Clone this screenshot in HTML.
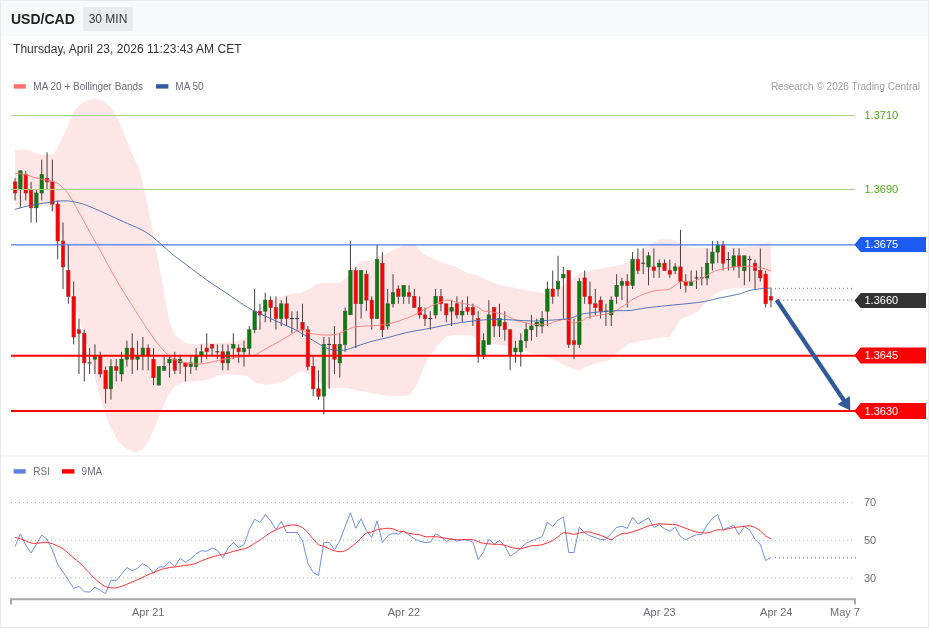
<!DOCTYPE html>
<html><head><meta charset="utf-8"><title>USD/CAD</title>
<style>
html,body{margin:0;padding:0;background:#fff;}
body{width:929px;height:629px;overflow:hidden;position:relative;font-family:"Liberation Sans",Arial,sans-serif;}
#box{position:absolute;left:0;top:0;width:927px;height:626px;border:1px solid #e6e9ed;background:#fff;}
#hdr{position:absolute;left:1px;top:1px;width:927px;height:35px;background:#f8f9fa;}
#ttl{position:absolute;left:11px;top:11px;font-size:14px;font-weight:bold;color:#222;line-height:16px;white-space:nowrap;}
#badge{position:absolute;left:83px;top:7px;width:50px;height:24px;background:#e9ecef;color:#333;font-size:12px;line-height:24px;text-align:center;white-space:nowrap;}
#date{position:absolute;left:13px;top:42px;font-size:12px;letter-spacing:0.06px;color:#333;line-height:15px;white-space:nowrap;}
</style></head><body>
<div id="box"></div>
<div id="hdr"></div>
<div id="ttl">USD/CAD</div>
<div id="badge">30 MIN</div>
<div id="date">Thursday, April 23, 2026 11:23:43 AM CET</div>
<svg width="929" height="629" viewBox="0 0 929 629" style="position:absolute;left:0;top:0" font-family="Liberation Sans, Arial, sans-serif">
<polygon points="15.0,150.0 25.0,149.3 31.0,151.0 37.7,153.8 45.0,154.5 51.9,154.2 55.0,152.0 57.1,148.0 60.0,142.5 63.6,135.0 67.5,126.0 71.3,117.0 75.2,109.2 80.0,104.5 85.5,101.5 90.0,99.8 94.6,98.9 99.0,99.5 103.6,101.5 107.5,104.5 111.4,107.9 117.8,118.3 124.3,133.8 128.0,144.1 131.7,152.5 138.3,166.7 143.3,185.0 148.3,208.3 153.3,235.0 158.3,261.7 163.3,288.3 166.0,304.7 170.0,323.3 175.0,335.0 181.7,340.7 190.0,344.3 206.7,343.5 226.7,342.5 240.0,340.5 246.0,337.0 252.0,331.0 258.0,326.0 266.7,310.0 275.2,299.7 281.7,296.5 290.7,294.0 300.0,293.0 310.0,288.3 318.3,283.3 340.0,282.5 346.7,277.0 355.0,266.7 361.7,261.0 375.0,260.0 383.3,255.5 396.7,248.3 404.0,245.2 410.0,244.0 416.0,245.5 423.3,254.0 431.7,258.3 443.3,263.0 456.7,266.7 466.7,273.0 476.7,275.0 486.7,280.0 500.0,285.0 516.7,288.3 533.3,291.7 546.7,293.3 556.7,290.0 565.0,284.0 572.6,278.8 580.4,272.5 590.0,270.3 606.7,267.7 623.3,264.3 631.7,260.0 640.0,251.5 646.5,247.0 654.2,241.8 662.0,239.2 670.0,239.0 676.2,241.0 682.6,245.0 691.7,247.6 706.7,247.7 723.3,247.8 740.0,247.6 756.7,245.8 771.0,241.5 771.0,288.8 765.0,288.5 756.0,288.3 748.0,288.0 740.4,288.0 733.6,288.2 728.8,288.9 722.0,290.8 715.2,294.2 709.4,299.0 704.5,303.9 697.8,311.7 690.0,315.5 686.7,316.7 680.0,320.0 675.0,328.3 670.0,336.7 656.7,338.3 643.3,340.5 630.0,343.5 621.7,349.0 615.0,355.5 610.0,360.0 600.0,362.5 588.0,366.0 578.4,370.8 570.0,367.5 562.3,364.0 549.5,358.0 540.0,356.0 525.0,351.0 508.5,346.7 491.7,343.5 477.5,340.2 472.3,335.7 456.7,335.0 446.5,336.5 436.7,346.7 428.3,358.3 423.3,368.3 416.7,385.0 410.0,395.0 400.0,396.3 390.0,396.0 373.4,393.5 360.4,391.0 347.5,388.0 329.4,388.0 318.0,382.0 308.8,375.2 302.3,370.7 296.7,373.5 283.3,381.7 266.7,385.0 256.7,383.3 246.7,376.0 233.3,374.5 218.3,375.0 210.0,379.3 200.0,380.7 183.3,382.3 175.0,386.0 168.3,395.0 161.7,410.0 155.0,426.7 148.3,441.7 141.7,450.0 135.0,452.3 126.7,449.3 118.3,441.7 114.6,434.6 109.0,424.0 103.5,408.5 98.5,391.0 93.5,371.5 87.5,347.0 82.0,328.0 78.0,316.0 73.5,300.0 69.5,280.0 66.5,262.0 63.0,244.0 59.0,226.0 55.0,214.0 50.6,207.0 45.0,206.0 35.0,206.0 25.0,205.0 15.0,204.0" fill="#ffe6e6"/>
<line x1="15.10" y1="178.2" x2="15.10" y2="200.4" stroke="#4a3f3f" stroke-width="1"/>
<rect x="13.40" y="181.9" width="3.4" height="11.1" fill="#ff0000" stroke="#a83232" stroke-width="0.6"/>
<line x1="20.42" y1="170.8" x2="20.42" y2="207.8" stroke="#4a3f3f" stroke-width="1"/>
<rect x="18.72" y="170.8" width="3.4" height="18.5" fill="#0a7d0a" stroke="#2f5a2f" stroke-width="0.6"/>
<line x1="25.75" y1="170.8" x2="25.75" y2="200.4" stroke="#4a3f3f" stroke-width="1"/>
<rect x="24.05" y="174.5" width="3.4" height="18.5" fill="#ff0000" stroke="#a83232" stroke-width="0.6"/>
<line x1="31.07" y1="181.9" x2="31.07" y2="222.5" stroke="#4a3f3f" stroke-width="1"/>
<rect x="29.37" y="189.3" width="3.4" height="18.5" fill="#ff0000" stroke="#a83232" stroke-width="0.6"/>
<line x1="36.39" y1="189.3" x2="36.39" y2="222.5" stroke="#4a3f3f" stroke-width="1"/>
<rect x="34.69" y="193.0" width="3.4" height="14.8" fill="#0a7d0a" stroke="#2f5a2f" stroke-width="0.6"/>
<line x1="41.72" y1="159.7" x2="41.72" y2="200.4" stroke="#4a3f3f" stroke-width="1"/>
<rect x="40.02" y="174.5" width="3.4" height="18.5" fill="#0a7d0a" stroke="#2f5a2f" stroke-width="0.6"/>
<line x1="47.04" y1="152.3" x2="47.04" y2="189.3" stroke="#4a3f3f" stroke-width="1"/>
<rect x="45.34" y="178.2" width="3.4" height="3.7" fill="#ff0000" stroke="#a83232" stroke-width="0.6"/>
<line x1="52.36" y1="159.7" x2="52.36" y2="211.4" stroke="#4a3f3f" stroke-width="1"/>
<rect x="50.66" y="181.9" width="3.4" height="22.2" fill="#ff0000" stroke="#a83232" stroke-width="0.6"/>
<line x1="57.68" y1="200.4" x2="57.68" y2="259.5" stroke="#4a3f3f" stroke-width="1"/>
<rect x="55.98" y="204.1" width="3.4" height="36.9" fill="#ff0000" stroke="#a83232" stroke-width="0.6"/>
<line x1="63.01" y1="222.5" x2="63.01" y2="289.0" stroke="#4a3f3f" stroke-width="1"/>
<rect x="61.31" y="241.0" width="3.4" height="25.9" fill="#ff0000" stroke="#a83232" stroke-width="0.6"/>
<line x1="68.33" y1="244.7" x2="68.33" y2="303.8" stroke="#4a3f3f" stroke-width="1"/>
<rect x="66.63" y="270.5" width="3.4" height="25.9" fill="#ff0000" stroke="#a83232" stroke-width="0.6"/>
<line x1="73.65" y1="281.6" x2="73.65" y2="344.4" stroke="#4a3f3f" stroke-width="1"/>
<rect x="71.95" y="296.4" width="3.4" height="40.6" fill="#ff0000" stroke="#a83232" stroke-width="0.6"/>
<line x1="78.98" y1="318.6" x2="78.98" y2="374.0" stroke="#4a3f3f" stroke-width="1"/>
<rect x="77.28" y="329.7" width="3.4" height="3.7" fill="#ff0000" stroke="#a83232" stroke-width="0.6"/>
<line x1="84.30" y1="329.7" x2="84.30" y2="381.4" stroke="#4a3f3f" stroke-width="1"/>
<rect x="82.60" y="333.3" width="3.4" height="29.6" fill="#ff0000" stroke="#a83232" stroke-width="0.6"/>
<line x1="89.62" y1="348.1" x2="89.62" y2="374.0" stroke="#4a3f3f" stroke-width="1"/>
<line x1="87.62" y1="362.9" x2="91.62" y2="362.9" stroke="#3a3030" stroke-width="1"/>
<line x1="94.94" y1="344.4" x2="94.94" y2="374.0" stroke="#4a3f3f" stroke-width="1"/>
<rect x="93.24" y="355.5" width="3.4" height="3.7" fill="#0a7d0a" stroke="#2f5a2f" stroke-width="0.6"/>
<line x1="100.27" y1="351.8" x2="100.27" y2="377.7" stroke="#4a3f3f" stroke-width="1"/>
<rect x="98.57" y="355.5" width="3.4" height="18.5" fill="#ff0000" stroke="#a83232" stroke-width="0.6"/>
<line x1="105.59" y1="366.6" x2="105.59" y2="403.5" stroke="#4a3f3f" stroke-width="1"/>
<rect x="103.89" y="370.3" width="3.4" height="18.5" fill="#ff0000" stroke="#a83232" stroke-width="0.6"/>
<line x1="110.91" y1="359.2" x2="110.91" y2="399.8" stroke="#4a3f3f" stroke-width="1"/>
<rect x="109.21" y="366.6" width="3.4" height="22.2" fill="#0a7d0a" stroke="#2f5a2f" stroke-width="0.6"/>
<line x1="116.24" y1="359.2" x2="116.24" y2="381.4" stroke="#4a3f3f" stroke-width="1"/>
<rect x="114.54" y="366.6" width="3.4" height="3.7" fill="#ff0000" stroke="#a83232" stroke-width="0.6"/>
<line x1="121.56" y1="351.8" x2="121.56" y2="381.4" stroke="#4a3f3f" stroke-width="1"/>
<rect x="119.86" y="359.2" width="3.4" height="14.8" fill="#0a7d0a" stroke="#2f5a2f" stroke-width="0.6"/>
<line x1="126.88" y1="340.7" x2="126.88" y2="366.6" stroke="#4a3f3f" stroke-width="1"/>
<rect x="125.18" y="348.1" width="3.4" height="11.1" fill="#0a7d0a" stroke="#2f5a2f" stroke-width="0.6"/>
<line x1="132.21" y1="333.3" x2="132.21" y2="374.0" stroke="#4a3f3f" stroke-width="1"/>
<rect x="130.51" y="348.1" width="3.4" height="11.1" fill="#ff0000" stroke="#a83232" stroke-width="0.6"/>
<line x1="137.53" y1="340.7" x2="137.53" y2="370.3" stroke="#4a3f3f" stroke-width="1"/>
<rect x="135.83" y="355.5" width="3.4" height="3.7" fill="#0a7d0a" stroke="#2f5a2f" stroke-width="0.6"/>
<line x1="142.85" y1="337.0" x2="142.85" y2="370.3" stroke="#4a3f3f" stroke-width="1"/>
<rect x="141.15" y="348.1" width="3.4" height="7.4" fill="#0a7d0a" stroke="#2f5a2f" stroke-width="0.6"/>
<line x1="148.18" y1="344.4" x2="148.18" y2="370.3" stroke="#4a3f3f" stroke-width="1"/>
<rect x="146.48" y="348.1" width="3.4" height="7.4" fill="#ff0000" stroke="#a83232" stroke-width="0.6"/>
<line x1="153.50" y1="348.1" x2="153.50" y2="385.1" stroke="#4a3f3f" stroke-width="1"/>
<rect x="151.80" y="359.2" width="3.4" height="18.5" fill="#ff0000" stroke="#a83232" stroke-width="0.6"/>
<line x1="158.82" y1="366.6" x2="158.82" y2="385.1" stroke="#4a3f3f" stroke-width="1"/>
<rect x="157.12" y="366.6" width="3.4" height="18.5" fill="#0a7d0a" stroke="#2f5a2f" stroke-width="0.6"/>
<line x1="164.14" y1="355.5" x2="164.14" y2="370.3" stroke="#4a3f3f" stroke-width="1"/>
<rect x="162.44" y="366.6" width="3.4" height="3.7" fill="#0a7d0a" stroke="#2f5a2f" stroke-width="0.6"/>
<line x1="169.47" y1="355.5" x2="169.47" y2="377.7" stroke="#4a3f3f" stroke-width="1"/>
<rect x="167.77" y="359.2" width="3.4" height="3.7" fill="#0a7d0a" stroke="#2f5a2f" stroke-width="0.6"/>
<line x1="174.79" y1="351.8" x2="174.79" y2="374.0" stroke="#4a3f3f" stroke-width="1"/>
<rect x="173.09" y="359.2" width="3.4" height="11.1" fill="#ff0000" stroke="#a83232" stroke-width="0.6"/>
<line x1="180.11" y1="355.5" x2="180.11" y2="374.0" stroke="#4a3f3f" stroke-width="1"/>
<rect x="178.41" y="359.2" width="3.4" height="3.7" fill="#0a7d0a" stroke="#2f5a2f" stroke-width="0.6"/>
<line x1="185.44" y1="362.9" x2="185.44" y2="381.4" stroke="#4a3f3f" stroke-width="1"/>
<rect x="183.74" y="362.9" width="3.4" height="3.7" fill="#ff0000" stroke="#a83232" stroke-width="0.6"/>
<line x1="190.76" y1="355.5" x2="190.76" y2="374.0" stroke="#4a3f3f" stroke-width="1"/>
<rect x="189.06" y="362.9" width="3.4" height="3.7" fill="#0a7d0a" stroke="#2f5a2f" stroke-width="0.6"/>
<line x1="196.08" y1="348.1" x2="196.08" y2="370.3" stroke="#4a3f3f" stroke-width="1"/>
<rect x="194.38" y="355.5" width="3.4" height="11.1" fill="#0a7d0a" stroke="#2f5a2f" stroke-width="0.6"/>
<line x1="201.41" y1="344.4" x2="201.41" y2="362.9" stroke="#4a3f3f" stroke-width="1"/>
<rect x="199.71" y="351.8" width="3.4" height="3.7" fill="#0a7d0a" stroke="#2f5a2f" stroke-width="0.6"/>
<line x1="206.73" y1="333.3" x2="206.73" y2="359.2" stroke="#4a3f3f" stroke-width="1"/>
<rect x="205.03" y="348.1" width="3.4" height="3.7" fill="#ff0000" stroke="#a83232" stroke-width="0.6"/>
<line x1="212.05" y1="344.4" x2="212.05" y2="355.5" stroke="#4a3f3f" stroke-width="1"/>
<rect x="210.35" y="344.4" width="3.4" height="3.7" fill="#ff0000" stroke="#a83232" stroke-width="0.6"/>
<line x1="217.37" y1="344.4" x2="217.37" y2="359.2" stroke="#4a3f3f" stroke-width="1"/>
<line x1="215.37" y1="351.8" x2="219.37" y2="351.8" stroke="#3a3030" stroke-width="1"/>
<line x1="222.70" y1="344.4" x2="222.70" y2="370.3" stroke="#4a3f3f" stroke-width="1"/>
<rect x="221.00" y="351.8" width="3.4" height="11.1" fill="#ff0000" stroke="#a83232" stroke-width="0.6"/>
<line x1="228.02" y1="344.4" x2="228.02" y2="370.3" stroke="#4a3f3f" stroke-width="1"/>
<rect x="226.32" y="351.8" width="3.4" height="11.1" fill="#0a7d0a" stroke="#2f5a2f" stroke-width="0.6"/>
<line x1="233.34" y1="333.3" x2="233.34" y2="359.2" stroke="#4a3f3f" stroke-width="1"/>
<rect x="231.64" y="344.4" width="3.4" height="3.7" fill="#0a7d0a" stroke="#2f5a2f" stroke-width="0.6"/>
<line x1="238.67" y1="344.4" x2="238.67" y2="362.9" stroke="#4a3f3f" stroke-width="1"/>
<rect x="236.97" y="348.1" width="3.4" height="3.7" fill="#ff0000" stroke="#a83232" stroke-width="0.6"/>
<line x1="243.99" y1="340.7" x2="243.99" y2="366.6" stroke="#4a3f3f" stroke-width="1"/>
<rect x="242.29" y="348.1" width="3.4" height="3.7" fill="#0a7d0a" stroke="#2f5a2f" stroke-width="0.6"/>
<line x1="249.31" y1="326.0" x2="249.31" y2="355.5" stroke="#4a3f3f" stroke-width="1"/>
<rect x="247.61" y="329.7" width="3.4" height="18.5" fill="#0a7d0a" stroke="#2f5a2f" stroke-width="0.6"/>
<line x1="254.64" y1="289.0" x2="254.64" y2="333.3" stroke="#4a3f3f" stroke-width="1"/>
<rect x="252.94" y="311.2" width="3.4" height="18.5" fill="#0a7d0a" stroke="#2f5a2f" stroke-width="0.6"/>
<line x1="259.96" y1="303.8" x2="259.96" y2="329.7" stroke="#4a3f3f" stroke-width="1"/>
<rect x="258.26" y="311.2" width="3.4" height="3.7" fill="#ff0000" stroke="#a83232" stroke-width="0.6"/>
<line x1="265.28" y1="292.7" x2="265.28" y2="322.3" stroke="#4a3f3f" stroke-width="1"/>
<rect x="263.58" y="300.1" width="3.4" height="11.1" fill="#0a7d0a" stroke="#2f5a2f" stroke-width="0.6"/>
<line x1="270.60" y1="296.4" x2="270.60" y2="322.3" stroke="#4a3f3f" stroke-width="1"/>
<rect x="268.90" y="300.1" width="3.4" height="7.4" fill="#ff0000" stroke="#a83232" stroke-width="0.6"/>
<line x1="275.93" y1="296.4" x2="275.93" y2="329.7" stroke="#4a3f3f" stroke-width="1"/>
<rect x="274.23" y="307.5" width="3.4" height="11.1" fill="#ff0000" stroke="#a83232" stroke-width="0.6"/>
<line x1="281.25" y1="300.1" x2="281.25" y2="326.0" stroke="#4a3f3f" stroke-width="1"/>
<rect x="279.55" y="303.8" width="3.4" height="14.8" fill="#0a7d0a" stroke="#2f5a2f" stroke-width="0.6"/>
<line x1="286.57" y1="296.4" x2="286.57" y2="326.0" stroke="#4a3f3f" stroke-width="1"/>
<rect x="284.87" y="303.8" width="3.4" height="14.8" fill="#ff0000" stroke="#a83232" stroke-width="0.6"/>
<line x1="291.90" y1="311.2" x2="291.90" y2="333.3" stroke="#4a3f3f" stroke-width="1"/>
<line x1="289.90" y1="318.6" x2="293.90" y2="318.6" stroke="#3a3030" stroke-width="1"/>
<line x1="297.22" y1="311.2" x2="297.22" y2="329.7" stroke="#4a3f3f" stroke-width="1"/>
<line x1="295.22" y1="318.6" x2="299.22" y2="318.6" stroke="#3a3030" stroke-width="1"/>
<line x1="302.54" y1="303.8" x2="302.54" y2="337.0" stroke="#4a3f3f" stroke-width="1"/>
<rect x="300.84" y="322.3" width="3.4" height="7.4" fill="#ff0000" stroke="#a83232" stroke-width="0.6"/>
<line x1="307.87" y1="326.0" x2="307.87" y2="370.3" stroke="#4a3f3f" stroke-width="1"/>
<rect x="306.17" y="329.7" width="3.4" height="36.9" fill="#ff0000" stroke="#a83232" stroke-width="0.6"/>
<line x1="313.19" y1="355.5" x2="313.19" y2="396.1" stroke="#4a3f3f" stroke-width="1"/>
<rect x="311.49" y="366.6" width="3.4" height="22.2" fill="#ff0000" stroke="#a83232" stroke-width="0.6"/>
<line x1="318.51" y1="370.3" x2="318.51" y2="399.8" stroke="#4a3f3f" stroke-width="1"/>
<rect x="316.81" y="388.8" width="3.4" height="7.4" fill="#ff0000" stroke="#a83232" stroke-width="0.6"/>
<line x1="323.83" y1="337.0" x2="323.83" y2="414.6" stroke="#4a3f3f" stroke-width="1"/>
<rect x="322.13" y="344.4" width="3.4" height="51.7" fill="#0a7d0a" stroke="#2f5a2f" stroke-width="0.6"/>
<line x1="329.16" y1="337.0" x2="329.16" y2="388.8" stroke="#4a3f3f" stroke-width="1"/>
<line x1="327.16" y1="344.4" x2="331.16" y2="344.4" stroke="#3a3030" stroke-width="1"/>
<line x1="334.48" y1="326.0" x2="334.48" y2="374.0" stroke="#4a3f3f" stroke-width="1"/>
<rect x="332.78" y="344.4" width="3.4" height="14.8" fill="#ff0000" stroke="#a83232" stroke-width="0.6"/>
<line x1="339.80" y1="333.3" x2="339.80" y2="377.7" stroke="#4a3f3f" stroke-width="1"/>
<rect x="338.10" y="344.4" width="3.4" height="18.5" fill="#0a7d0a" stroke="#2f5a2f" stroke-width="0.6"/>
<line x1="345.13" y1="307.5" x2="345.13" y2="351.8" stroke="#4a3f3f" stroke-width="1"/>
<rect x="343.43" y="311.2" width="3.4" height="33.2" fill="#0a7d0a" stroke="#2f5a2f" stroke-width="0.6"/>
<line x1="350.45" y1="241.0" x2="350.45" y2="314.9" stroke="#4a3f3f" stroke-width="1"/>
<rect x="348.75" y="270.5" width="3.4" height="44.3" fill="#0a7d0a" stroke="#2f5a2f" stroke-width="0.6"/>
<line x1="355.77" y1="266.9" x2="355.77" y2="348.1" stroke="#4a3f3f" stroke-width="1"/>
<rect x="354.07" y="270.5" width="3.4" height="33.2" fill="#ff0000" stroke="#a83232" stroke-width="0.6"/>
<line x1="361.10" y1="270.5" x2="361.10" y2="318.6" stroke="#4a3f3f" stroke-width="1"/>
<rect x="359.40" y="270.5" width="3.4" height="33.2" fill="#0a7d0a" stroke="#2f5a2f" stroke-width="0.6"/>
<line x1="366.42" y1="270.5" x2="366.42" y2="311.2" stroke="#4a3f3f" stroke-width="1"/>
<rect x="364.72" y="274.2" width="3.4" height="25.9" fill="#ff0000" stroke="#a83232" stroke-width="0.6"/>
<line x1="371.74" y1="296.4" x2="371.74" y2="329.7" stroke="#4a3f3f" stroke-width="1"/>
<rect x="370.04" y="300.1" width="3.4" height="18.5" fill="#ff0000" stroke="#a83232" stroke-width="0.6"/>
<line x1="377.06" y1="244.7" x2="377.06" y2="318.6" stroke="#4a3f3f" stroke-width="1"/>
<rect x="375.36" y="259.5" width="3.4" height="59.1" fill="#0a7d0a" stroke="#2f5a2f" stroke-width="0.6"/>
<line x1="382.39" y1="252.1" x2="382.39" y2="337.0" stroke="#4a3f3f" stroke-width="1"/>
<rect x="380.69" y="263.2" width="3.4" height="66.5" fill="#ff0000" stroke="#a83232" stroke-width="0.6"/>
<line x1="387.71" y1="289.0" x2="387.71" y2="329.7" stroke="#4a3f3f" stroke-width="1"/>
<rect x="386.01" y="303.8" width="3.4" height="22.2" fill="#0a7d0a" stroke="#2f5a2f" stroke-width="0.6"/>
<line x1="393.03" y1="274.2" x2="393.03" y2="307.5" stroke="#4a3f3f" stroke-width="1"/>
<rect x="391.33" y="292.7" width="3.4" height="11.1" fill="#0a7d0a" stroke="#2f5a2f" stroke-width="0.6"/>
<line x1="398.36" y1="285.3" x2="398.36" y2="303.8" stroke="#4a3f3f" stroke-width="1"/>
<rect x="396.66" y="289.0" width="3.4" height="7.4" fill="#ff0000" stroke="#a83232" stroke-width="0.6"/>
<line x1="403.68" y1="285.3" x2="403.68" y2="303.8" stroke="#4a3f3f" stroke-width="1"/>
<rect x="401.98" y="285.3" width="3.4" height="11.1" fill="#0a7d0a" stroke="#2f5a2f" stroke-width="0.6"/>
<line x1="409.00" y1="285.3" x2="409.00" y2="303.8" stroke="#4a3f3f" stroke-width="1"/>
<rect x="407.30" y="292.7" width="3.4" height="3.7" fill="#ff0000" stroke="#a83232" stroke-width="0.6"/>
<line x1="414.33" y1="289.0" x2="414.33" y2="307.5" stroke="#4a3f3f" stroke-width="1"/>
<rect x="412.63" y="296.4" width="3.4" height="11.1" fill="#ff0000" stroke="#a83232" stroke-width="0.6"/>
<line x1="419.65" y1="296.4" x2="419.65" y2="318.6" stroke="#4a3f3f" stroke-width="1"/>
<rect x="417.95" y="307.5" width="3.4" height="7.4" fill="#ff0000" stroke="#a83232" stroke-width="0.6"/>
<line x1="424.97" y1="307.5" x2="424.97" y2="326.0" stroke="#4a3f3f" stroke-width="1"/>
<rect x="423.27" y="314.9" width="3.4" height="3.7" fill="#ff0000" stroke="#a83232" stroke-width="0.6"/>
<line x1="430.29" y1="311.2" x2="430.29" y2="329.7" stroke="#4a3f3f" stroke-width="1"/>
<line x1="428.29" y1="318.6" x2="432.29" y2="318.6" stroke="#3a3030" stroke-width="1"/>
<line x1="435.62" y1="289.0" x2="435.62" y2="318.6" stroke="#4a3f3f" stroke-width="1"/>
<rect x="433.92" y="296.4" width="3.4" height="18.5" fill="#0a7d0a" stroke="#2f5a2f" stroke-width="0.6"/>
<line x1="440.94" y1="289.0" x2="440.94" y2="311.2" stroke="#4a3f3f" stroke-width="1"/>
<rect x="439.24" y="296.4" width="3.4" height="7.4" fill="#ff0000" stroke="#a83232" stroke-width="0.6"/>
<line x1="446.26" y1="303.8" x2="446.26" y2="322.3" stroke="#4a3f3f" stroke-width="1"/>
<rect x="444.56" y="303.8" width="3.4" height="11.1" fill="#ff0000" stroke="#a83232" stroke-width="0.6"/>
<line x1="451.59" y1="300.1" x2="451.59" y2="326.0" stroke="#4a3f3f" stroke-width="1"/>
<rect x="449.89" y="307.5" width="3.4" height="3.7" fill="#0a7d0a" stroke="#2f5a2f" stroke-width="0.6"/>
<line x1="456.91" y1="296.4" x2="456.91" y2="318.6" stroke="#4a3f3f" stroke-width="1"/>
<rect x="455.21" y="303.8" width="3.4" height="11.1" fill="#ff0000" stroke="#a83232" stroke-width="0.6"/>
<line x1="462.23" y1="300.1" x2="462.23" y2="322.3" stroke="#4a3f3f" stroke-width="1"/>
<rect x="460.53" y="311.2" width="3.4" height="3.7" fill="#0a7d0a" stroke="#2f5a2f" stroke-width="0.6"/>
<line x1="467.56" y1="296.4" x2="467.56" y2="314.9" stroke="#4a3f3f" stroke-width="1"/>
<rect x="465.86" y="307.5" width="3.4" height="3.7" fill="#ff0000" stroke="#a83232" stroke-width="0.6"/>
<line x1="472.88" y1="303.8" x2="472.88" y2="326.0" stroke="#4a3f3f" stroke-width="1"/>
<rect x="471.18" y="307.5" width="3.4" height="7.4" fill="#ff0000" stroke="#a83232" stroke-width="0.6"/>
<line x1="478.20" y1="311.2" x2="478.20" y2="362.9" stroke="#4a3f3f" stroke-width="1"/>
<rect x="476.50" y="318.6" width="3.4" height="36.9" fill="#ff0000" stroke="#a83232" stroke-width="0.6"/>
<line x1="483.52" y1="333.3" x2="483.52" y2="359.2" stroke="#4a3f3f" stroke-width="1"/>
<rect x="481.82" y="340.7" width="3.4" height="14.8" fill="#0a7d0a" stroke="#2f5a2f" stroke-width="0.6"/>
<line x1="488.85" y1="300.1" x2="488.85" y2="344.4" stroke="#4a3f3f" stroke-width="1"/>
<rect x="487.15" y="314.9" width="3.4" height="29.6" fill="#0a7d0a" stroke="#2f5a2f" stroke-width="0.6"/>
<line x1="494.17" y1="307.5" x2="494.17" y2="337.0" stroke="#4a3f3f" stroke-width="1"/>
<rect x="492.47" y="307.5" width="3.4" height="18.5" fill="#ff0000" stroke="#a83232" stroke-width="0.6"/>
<line x1="499.49" y1="303.8" x2="499.49" y2="337.0" stroke="#4a3f3f" stroke-width="1"/>
<rect x="497.79" y="318.6" width="3.4" height="7.4" fill="#0a7d0a" stroke="#2f5a2f" stroke-width="0.6"/>
<line x1="504.82" y1="311.2" x2="504.82" y2="340.7" stroke="#4a3f3f" stroke-width="1"/>
<rect x="503.12" y="322.3" width="3.4" height="7.4" fill="#ff0000" stroke="#a83232" stroke-width="0.6"/>
<line x1="510.14" y1="329.7" x2="510.14" y2="370.3" stroke="#4a3f3f" stroke-width="1"/>
<rect x="508.44" y="329.7" width="3.4" height="25.9" fill="#ff0000" stroke="#a83232" stroke-width="0.6"/>
<line x1="515.46" y1="340.7" x2="515.46" y2="362.9" stroke="#4a3f3f" stroke-width="1"/>
<rect x="513.76" y="348.1" width="3.4" height="3.7" fill="#0a7d0a" stroke="#2f5a2f" stroke-width="0.6"/>
<line x1="520.79" y1="333.3" x2="520.79" y2="366.6" stroke="#4a3f3f" stroke-width="1"/>
<rect x="519.09" y="340.7" width="3.4" height="11.1" fill="#0a7d0a" stroke="#2f5a2f" stroke-width="0.6"/>
<line x1="526.11" y1="322.3" x2="526.11" y2="348.1" stroke="#4a3f3f" stroke-width="1"/>
<rect x="524.41" y="329.7" width="3.4" height="11.1" fill="#0a7d0a" stroke="#2f5a2f" stroke-width="0.6"/>
<line x1="531.43" y1="314.9" x2="531.43" y2="340.7" stroke="#4a3f3f" stroke-width="1"/>
<rect x="529.73" y="326.0" width="3.4" height="3.7" fill="#0a7d0a" stroke="#2f5a2f" stroke-width="0.6"/>
<line x1="536.75" y1="318.6" x2="536.75" y2="337.0" stroke="#4a3f3f" stroke-width="1"/>
<rect x="535.05" y="322.3" width="3.4" height="3.7" fill="#0a7d0a" stroke="#2f5a2f" stroke-width="0.6"/>
<line x1="542.08" y1="311.2" x2="542.08" y2="333.3" stroke="#4a3f3f" stroke-width="1"/>
<rect x="540.38" y="318.6" width="3.4" height="7.4" fill="#0a7d0a" stroke="#2f5a2f" stroke-width="0.6"/>
<line x1="547.40" y1="281.6" x2="547.40" y2="326.0" stroke="#4a3f3f" stroke-width="1"/>
<rect x="545.70" y="289.0" width="3.4" height="22.2" fill="#0a7d0a" stroke="#2f5a2f" stroke-width="0.6"/>
<line x1="552.72" y1="270.5" x2="552.72" y2="303.8" stroke="#4a3f3f" stroke-width="1"/>
<rect x="551.02" y="289.0" width="3.4" height="7.4" fill="#ff0000" stroke="#a83232" stroke-width="0.6"/>
<line x1="558.05" y1="255.8" x2="558.05" y2="296.4" stroke="#4a3f3f" stroke-width="1"/>
<rect x="556.35" y="281.6" width="3.4" height="7.4" fill="#0a7d0a" stroke="#2f5a2f" stroke-width="0.6"/>
<line x1="563.37" y1="266.9" x2="563.37" y2="318.6" stroke="#4a3f3f" stroke-width="1"/>
<rect x="561.67" y="274.2" width="3.4" height="3.7" fill="#0a7d0a" stroke="#2f5a2f" stroke-width="0.6"/>
<line x1="568.69" y1="270.5" x2="568.69" y2="348.1" stroke="#4a3f3f" stroke-width="1"/>
<rect x="566.99" y="270.5" width="3.4" height="73.9" fill="#ff0000" stroke="#a83232" stroke-width="0.6"/>
<line x1="574.02" y1="318.6" x2="574.02" y2="359.2" stroke="#4a3f3f" stroke-width="1"/>
<rect x="572.32" y="340.7" width="3.4" height="3.7" fill="#ff0000" stroke="#a83232" stroke-width="0.6"/>
<line x1="579.34" y1="277.9" x2="579.34" y2="348.1" stroke="#4a3f3f" stroke-width="1"/>
<rect x="577.64" y="281.6" width="3.4" height="62.8" fill="#0a7d0a" stroke="#2f5a2f" stroke-width="0.6"/>
<line x1="584.66" y1="270.5" x2="584.66" y2="303.8" stroke="#4a3f3f" stroke-width="1"/>
<rect x="582.96" y="277.9" width="3.4" height="18.5" fill="#ff0000" stroke="#a83232" stroke-width="0.6"/>
<line x1="589.98" y1="281.6" x2="589.98" y2="318.6" stroke="#4a3f3f" stroke-width="1"/>
<rect x="588.28" y="296.4" width="3.4" height="7.4" fill="#ff0000" stroke="#a83232" stroke-width="0.6"/>
<line x1="595.31" y1="289.0" x2="595.31" y2="314.9" stroke="#4a3f3f" stroke-width="1"/>
<rect x="593.61" y="303.8" width="3.4" height="3.7" fill="#ff0000" stroke="#a83232" stroke-width="0.6"/>
<line x1="600.63" y1="296.4" x2="600.63" y2="318.6" stroke="#4a3f3f" stroke-width="1"/>
<rect x="598.93" y="300.1" width="3.4" height="11.1" fill="#ff0000" stroke="#a83232" stroke-width="0.6"/>
<line x1="605.95" y1="303.8" x2="605.95" y2="326.0" stroke="#4a3f3f" stroke-width="1"/>
<line x1="603.95" y1="311.2" x2="607.95" y2="311.2" stroke="#3a3030" stroke-width="1"/>
<line x1="611.28" y1="296.4" x2="611.28" y2="326.0" stroke="#4a3f3f" stroke-width="1"/>
<rect x="609.58" y="300.1" width="3.4" height="14.8" fill="#0a7d0a" stroke="#2f5a2f" stroke-width="0.6"/>
<line x1="616.60" y1="274.2" x2="616.60" y2="303.8" stroke="#4a3f3f" stroke-width="1"/>
<rect x="614.90" y="285.3" width="3.4" height="11.1" fill="#0a7d0a" stroke="#2f5a2f" stroke-width="0.6"/>
<line x1="621.92" y1="277.9" x2="621.92" y2="300.1" stroke="#4a3f3f" stroke-width="1"/>
<rect x="620.22" y="281.6" width="3.4" height="3.7" fill="#0a7d0a" stroke="#2f5a2f" stroke-width="0.6"/>
<line x1="627.25" y1="274.2" x2="627.25" y2="307.5" stroke="#4a3f3f" stroke-width="1"/>
<rect x="625.55" y="281.6" width="3.4" height="3.7" fill="#ff0000" stroke="#a83232" stroke-width="0.6"/>
<line x1="632.57" y1="252.1" x2="632.57" y2="289.0" stroke="#4a3f3f" stroke-width="1"/>
<rect x="630.87" y="259.5" width="3.4" height="25.9" fill="#0a7d0a" stroke="#2f5a2f" stroke-width="0.6"/>
<line x1="637.89" y1="248.4" x2="637.89" y2="274.2" stroke="#4a3f3f" stroke-width="1"/>
<rect x="636.19" y="259.5" width="3.4" height="11.1" fill="#ff0000" stroke="#a83232" stroke-width="0.6"/>
<line x1="643.21" y1="248.4" x2="643.21" y2="274.2" stroke="#4a3f3f" stroke-width="1"/>
<line x1="641.21" y1="263.2" x2="645.21" y2="263.2" stroke="#3a3030" stroke-width="1"/>
<line x1="648.54" y1="252.1" x2="648.54" y2="285.3" stroke="#4a3f3f" stroke-width="1"/>
<rect x="646.84" y="255.8" width="3.4" height="11.1" fill="#0a7d0a" stroke="#2f5a2f" stroke-width="0.6"/>
<line x1="653.86" y1="248.4" x2="653.86" y2="277.9" stroke="#4a3f3f" stroke-width="1"/>
<rect x="652.16" y="266.9" width="3.4" height="3.7" fill="#ff0000" stroke="#a83232" stroke-width="0.6"/>
<line x1="659.18" y1="259.5" x2="659.18" y2="277.9" stroke="#4a3f3f" stroke-width="1"/>
<rect x="657.48" y="263.2" width="3.4" height="3.7" fill="#0a7d0a" stroke="#2f5a2f" stroke-width="0.6"/>
<line x1="664.51" y1="259.5" x2="664.51" y2="270.5" stroke="#4a3f3f" stroke-width="1"/>
<rect x="662.81" y="263.2" width="3.4" height="7.4" fill="#ff0000" stroke="#a83232" stroke-width="0.6"/>
<line x1="669.83" y1="259.5" x2="669.83" y2="277.9" stroke="#4a3f3f" stroke-width="1"/>
<rect x="668.13" y="270.5" width="3.4" height="3.7" fill="#ff0000" stroke="#a83232" stroke-width="0.6"/>
<line x1="675.15" y1="263.2" x2="675.15" y2="274.2" stroke="#4a3f3f" stroke-width="1"/>
<rect x="673.45" y="266.9" width="3.4" height="3.7" fill="#0a7d0a" stroke="#2f5a2f" stroke-width="0.6"/>
<line x1="680.48" y1="229.9" x2="680.48" y2="289.0" stroke="#4a3f3f" stroke-width="1"/>
<rect x="678.77" y="266.9" width="3.4" height="14.8" fill="#ff0000" stroke="#a83232" stroke-width="0.6"/>
<line x1="685.80" y1="274.2" x2="685.80" y2="292.7" stroke="#4a3f3f" stroke-width="1"/>
<rect x="684.10" y="281.6" width="3.4" height="3.7" fill="#ff0000" stroke="#a83232" stroke-width="0.6"/>
<line x1="691.12" y1="270.5" x2="691.12" y2="285.3" stroke="#4a3f3f" stroke-width="1"/>
<rect x="689.42" y="281.6" width="3.4" height="3.7" fill="#0a7d0a" stroke="#2f5a2f" stroke-width="0.6"/>
<line x1="696.44" y1="270.5" x2="696.44" y2="289.0" stroke="#4a3f3f" stroke-width="1"/>
<line x1="694.44" y1="277.9" x2="698.44" y2="277.9" stroke="#3a3030" stroke-width="1"/>
<line x1="701.77" y1="266.9" x2="701.77" y2="285.3" stroke="#4a3f3f" stroke-width="1"/>
<line x1="699.77" y1="277.9" x2="703.77" y2="277.9" stroke="#3a3030" stroke-width="1"/>
<line x1="707.09" y1="248.4" x2="707.09" y2="285.3" stroke="#4a3f3f" stroke-width="1"/>
<rect x="705.39" y="263.2" width="3.4" height="14.8" fill="#0a7d0a" stroke="#2f5a2f" stroke-width="0.6"/>
<line x1="712.41" y1="241.0" x2="712.41" y2="270.5" stroke="#4a3f3f" stroke-width="1"/>
<rect x="710.71" y="252.1" width="3.4" height="11.1" fill="#0a7d0a" stroke="#2f5a2f" stroke-width="0.6"/>
<line x1="717.74" y1="241.0" x2="717.74" y2="263.2" stroke="#4a3f3f" stroke-width="1"/>
<rect x="716.04" y="244.7" width="3.4" height="7.4" fill="#0a7d0a" stroke="#2f5a2f" stroke-width="0.6"/>
<line x1="723.06" y1="241.0" x2="723.06" y2="270.5" stroke="#4a3f3f" stroke-width="1"/>
<rect x="721.36" y="244.7" width="3.4" height="18.5" fill="#ff0000" stroke="#a83232" stroke-width="0.6"/>
<line x1="728.38" y1="252.1" x2="728.38" y2="270.5" stroke="#4a3f3f" stroke-width="1"/>
<line x1="726.38" y1="259.5" x2="730.38" y2="259.5" stroke="#3a3030" stroke-width="1"/>
<line x1="733.71" y1="248.4" x2="733.71" y2="270.5" stroke="#4a3f3f" stroke-width="1"/>
<rect x="732.00" y="255.8" width="3.4" height="11.1" fill="#0a7d0a" stroke="#2f5a2f" stroke-width="0.6"/>
<line x1="739.03" y1="248.4" x2="739.03" y2="277.9" stroke="#4a3f3f" stroke-width="1"/>
<rect x="737.33" y="255.8" width="3.4" height="11.1" fill="#ff0000" stroke="#a83232" stroke-width="0.6"/>
<line x1="744.35" y1="255.8" x2="744.35" y2="285.3" stroke="#4a3f3f" stroke-width="1"/>
<rect x="742.65" y="255.8" width="3.4" height="14.8" fill="#0a7d0a" stroke="#2f5a2f" stroke-width="0.6"/>
<line x1="749.67" y1="255.8" x2="749.67" y2="281.6" stroke="#4a3f3f" stroke-width="1"/>
<line x1="747.67" y1="259.5" x2="751.67" y2="259.5" stroke="#3a3030" stroke-width="1"/>
<line x1="755.00" y1="259.5" x2="755.00" y2="289.0" stroke="#4a3f3f" stroke-width="1"/>
<rect x="753.30" y="263.2" width="3.4" height="7.4" fill="#ff0000" stroke="#a83232" stroke-width="0.6"/>
<line x1="760.32" y1="248.4" x2="760.32" y2="281.6" stroke="#4a3f3f" stroke-width="1"/>
<rect x="758.62" y="270.5" width="3.4" height="7.4" fill="#ff0000" stroke="#a83232" stroke-width="0.6"/>
<line x1="765.64" y1="270.5" x2="765.64" y2="307.5" stroke="#4a3f3f" stroke-width="1"/>
<rect x="763.94" y="274.2" width="3.4" height="29.6" fill="#ff0000" stroke="#a83232" stroke-width="0.6"/>
<line x1="770.97" y1="289.0" x2="770.97" y2="307.5" stroke="#4a3f3f" stroke-width="1"/>
<rect x="769.27" y="296.4" width="3.4" height="3.7" fill="#ff0000" stroke="#a83232" stroke-width="0.6"/>
<path d="M15.0,173.4C16.7,173.6 21.9,173.8 25.0,174.4C28.1,175.0 30.2,176.3 33.3,177.2C36.3,178.0 40.0,178.8 43.3,179.5C46.6,180.2 50.4,180.4 53.3,181.4C56.2,182.4 57.9,183.3 60.5,185.5C63.1,187.7 65.8,190.3 68.7,194.5C71.7,198.7 75.0,205.2 78.2,210.9C81.4,216.6 84.1,221.9 87.7,228.4C91.3,234.9 96.2,243.2 99.9,249.9C103.6,256.6 106.7,262.5 110.0,268.5C113.3,274.5 116.4,280.0 120.0,286.0C123.6,292.0 128.4,299.4 131.7,304.7C135.0,310.0 136.9,313.3 140.0,318.0C143.1,322.7 147.0,328.7 150.0,333.0C153.0,337.3 155.3,340.7 158.0,344.0C160.7,347.3 163.7,350.7 166.0,353.0C168.3,355.3 169.7,356.6 172.0,358.0C174.3,359.4 177.0,360.6 180.0,361.5C183.0,362.4 186.7,363.1 190.0,363.5C193.3,363.9 196.3,364.2 200.0,364.0C203.7,363.8 207.8,362.8 212.0,362.0C216.2,361.2 220.3,359.8 225.0,359.0C229.7,358.2 235.8,357.5 240.0,357.0C244.2,356.5 247.5,356.3 250.0,356.0C252.5,355.7 253.0,355.8 255.0,355.0C257.0,354.2 259.5,352.4 262.0,351.0C264.5,349.6 267.0,348.2 270.0,346.5C273.0,344.8 276.7,342.9 280.0,341.0C283.3,339.1 286.7,336.8 290.0,335.0C293.3,333.2 296.7,330.3 300.0,330.0C303.3,329.7 306.1,332.5 310.0,333.3C313.9,334.1 318.9,334.8 323.3,335.0C327.8,335.2 332.8,335.1 336.7,334.3C340.6,333.5 343.4,331.3 346.7,330.0C350.0,328.7 352.3,327.4 356.7,326.7C361.1,326.0 368.3,326.1 373.3,325.7C378.3,325.3 382.2,325.2 386.7,324.3C391.1,323.4 395.6,322.0 400.0,320.5C404.4,319.0 409.1,317.4 413.3,315.5C417.5,313.6 421.5,310.9 425.2,309.0C428.9,307.1 432.4,305.6 435.6,304.2C438.8,302.8 442.0,301.4 444.6,300.8C447.2,300.2 448.9,300.1 451.0,300.4C453.1,300.7 454.3,301.8 457.5,302.5C460.7,303.2 466.9,304.1 470.4,304.9C473.8,305.7 476.0,306.5 478.2,307.5C480.4,308.5 481.5,310.3 483.4,311.0C485.3,311.7 487.0,311.2 489.8,311.6C492.6,312.0 497.5,313.0 500.0,313.5C502.5,314.0 502.9,313.9 505.0,314.8C507.1,315.7 509.9,317.6 512.4,318.7C514.9,319.8 517.0,320.4 520.0,321.3C523.0,322.2 526.6,323.4 530.4,324.0C534.2,324.6 539.8,324.7 543.0,324.6C546.2,324.5 547.7,324.2 549.8,323.6C551.9,323.1 553.3,322.0 555.8,321.3C558.3,320.6 562.5,319.4 564.9,319.4C567.3,319.3 568.5,320.4 570.0,321.0C571.5,321.6 571.9,323.1 573.9,323.0C575.9,322.9 579.1,321.7 581.7,320.7C584.3,319.7 586.2,317.8 589.4,316.8C592.6,315.8 597.1,315.6 601.0,314.9C604.9,314.2 609.5,313.7 612.7,312.5C615.9,311.3 617.8,309.4 620.4,307.8C623.0,306.2 626.0,304.5 628.2,303.0C630.4,301.5 630.4,300.7 633.4,299.0C636.4,297.3 642.6,294.4 646.5,293.0C650.4,291.6 652.8,291.2 656.7,290.5C660.6,289.8 665.8,290.4 669.7,289.0C673.6,287.6 676.3,283.2 680.0,282.0C683.7,280.8 688.0,282.5 691.7,281.8C695.4,281.1 698.5,279.6 702.0,278.0C705.5,276.4 709.4,273.6 712.4,272.2C715.4,270.8 717.0,270.4 720.0,269.6C723.0,268.8 726.5,267.9 730.4,267.3C734.3,266.8 739.6,266.4 743.4,266.3C747.2,266.2 749.9,266.4 753.0,266.7C756.1,267.0 759.0,267.3 762.0,268.0C765.0,268.7 769.5,270.5 771.0,271.0" fill="none" stroke="#ff7b7b" stroke-width="0.9"/>
<path d="M15.0,209.3C16.7,208.9 21.4,207.5 25.0,206.7C28.6,205.9 32.5,205.0 36.7,204.3C40.9,203.6 46.1,202.9 50.0,202.3C53.9,201.8 57.0,201.2 60.0,201.0C63.0,200.8 65.2,200.7 68.3,201.0C71.3,201.3 74.7,201.8 78.3,202.7C81.9,203.6 85.3,204.8 90.0,206.7C94.7,208.6 101.2,211.5 106.7,214.0C112.2,216.5 117.8,219.2 123.3,221.7C128.8,224.2 135.6,226.8 140.0,229.0C144.4,231.2 146.7,232.6 150.0,235.0C153.3,237.4 156.1,240.0 160.0,243.3C163.9,246.6 168.9,251.4 173.3,255.0C177.8,258.6 181.1,260.8 186.7,265.0C192.3,269.2 200.0,275.3 206.7,280.0C213.4,284.7 220.6,289.2 226.7,293.3C232.8,297.4 238.6,301.7 243.3,304.7C248.0,307.7 251.4,309.6 255.0,311.5C258.6,313.4 261.7,314.5 265.0,316.0C268.3,317.5 271.7,319.0 275.0,320.5C278.3,322.0 281.5,323.4 285.0,325.0C288.5,326.6 291.8,327.9 295.8,330.0C299.8,332.1 304.5,335.2 308.8,337.8C313.1,340.4 318.1,343.6 321.7,345.5C325.3,347.4 327.7,348.6 330.7,349.4C333.7,350.2 337.0,350.4 339.8,350.4C342.6,350.4 344.1,350.3 347.5,349.4C350.9,348.5 356.1,346.3 360.4,344.9C364.7,343.5 368.5,342.3 373.4,341.0C378.3,339.7 384.4,338.4 390.0,337.0C395.6,335.6 400.0,333.9 406.7,332.5C413.4,331.1 422.8,329.7 430.0,328.3C437.2,326.9 442.8,325.5 450.0,324.3C457.2,323.1 466.1,321.8 473.3,321.0C480.5,320.2 486.6,319.5 493.3,319.3C500.0,319.1 506.6,319.7 513.3,320.0C520.0,320.3 526.6,321.0 533.3,321.0C540.0,321.0 547.2,320.4 553.3,320.0C559.4,319.6 565.5,319.2 570.0,318.3C574.5,317.4 576.1,315.5 580.0,314.5C583.9,313.5 589.4,313.0 593.3,312.5C597.2,312.0 599.4,312.0 603.3,311.7C607.2,311.4 612.2,310.9 616.7,310.7C621.2,310.5 625.6,310.9 630.0,310.5C634.4,310.1 638.8,308.9 643.3,308.3C647.8,307.7 651.7,307.2 656.7,306.7C661.7,306.1 667.8,305.6 673.3,305.0C678.8,304.4 684.8,304.0 690.0,303.4C695.2,302.8 699.6,302.4 704.5,301.5C709.4,300.6 715.1,299.0 719.1,298.1C723.1,297.2 725.6,296.9 728.8,296.2C732.0,295.5 735.8,294.8 738.4,294.2C741.0,293.6 742.3,292.9 744.3,292.3C746.2,291.7 747.9,290.8 750.1,290.3C752.4,289.8 755.4,289.4 757.8,289.1C760.2,288.8 762.4,288.6 764.6,288.4C766.8,288.2 769.9,288.2 771.0,288.1" fill="none" stroke="#3d68b0" stroke-width="0.9"/>
<line x1="11" y1="115.5" x2="855" y2="115.5" stroke="#a6d388" stroke-width="1"/>
<line x1="11" y1="189.5" x2="855" y2="189.5" stroke="#a6d388" stroke-width="1"/>
<line x1="11" y1="244.75" x2="858" y2="244.75" stroke="#4a7df3" stroke-width="1.25"/>
<line x1="11" y1="355.7" x2="858" y2="355.7" stroke="#ff0000" stroke-width="2"/>
<line x1="11" y1="411" x2="858" y2="411" stroke="#ff0000" stroke-width="2"/>
<line x1="770.9" y1="288.3" x2="855" y2="288.3" stroke="#4a73b8" stroke-width="1" stroke-dasharray="1 3"/>
<line x1="779.3" y1="300.1" x2="853" y2="300.1" stroke="#444" stroke-width="1" stroke-dasharray="1 3"/>
<line x1="776.6" y1="300" x2="844" y2="400.5" stroke="#2f5b9c" stroke-width="4.2"/>
<polygon points="850.3,410.6 837.6,404.2 849.8,396" fill="#2f5b9c"/>
<polygon points="854.5,244.5 860.6,237 926,237 926,252 860.6,252" fill="#1d5cf0"/>
<text x="864.5" y="248" font-size="11" fill="#fff">1.3675</text>
<polygon points="854.5,300.5 860.6,293 926,293 926,308 860.6,308" fill="#333333"/>
<text x="864.5" y="303.6" font-size="11" fill="#fff">1.3660</text>
<polygon points="854.5,355.5 860.6,347.5 926,347.5 926,363.5 860.6,363.5" fill="#ff0000"/>
<text x="864.5" y="359" font-size="11" fill="#fff">1.3645</text>
<polygon points="854.5,411.0 860.6,403 926,403 926,419 860.6,419" fill="#ff0000"/>
<text x="864.5" y="415" font-size="11" fill="#fff">1.3630</text>
<text x="864.5" y="119" font-size="11" fill="#52a31a">1.3710</text>
<text x="864.5" y="193" font-size="11" fill="#52a31a">1.3690</text>
<rect x="13.8" y="84.2" width="12" height="4.4" fill="#ff6e6e"/>
<text x="33.3" y="90" font-size="10" fill="#6c6c78">MA 20 + Bollinger Bands</text>
<rect x="156" y="84.2" width="12.4" height="4.4" fill="#2f5b9c"/>
<text x="175.3" y="90" font-size="10" fill="#6c6c78">MA 50</text>
<text x="920" y="90" font-size="10" fill="#a0a0a0" text-anchor="end">Research © 2026 Trading Central</text>
<line x1="1" y1="455.8" x2="928" y2="455.8" stroke="#f1f2f5" stroke-width="1.3"/>
<rect x="13.7" y="469.2" width="12" height="4.4" fill="#5b7fe3"/>
<text x="33.3" y="474.8" font-size="10" fill="#6c6c78">RSI</text>
<rect x="62" y="469.2" width="12.4" height="4.4" fill="#ff0000"/>
<text x="81.6" y="474.8" font-size="10" fill="#6c6c78">9MA</text>
<line x1="11" y1="502.5" x2="853" y2="502.5" stroke="#b5b5b5" stroke-width="1" stroke-dasharray="1 3"/>
<text x="864" y="506.2" font-size="11" fill="#6c6c78">70</text>
<line x1="11" y1="540.3" x2="853" y2="540.3" stroke="#b5b5b5" stroke-width="1" stroke-dasharray="1 3"/>
<text x="864" y="544.0" font-size="11" fill="#6c6c78">50</text>
<line x1="11" y1="577.8" x2="853" y2="577.8" stroke="#b5b5b5" stroke-width="1" stroke-dasharray="1 3"/>
<text x="864" y="581.5" font-size="11" fill="#6c6c78">30</text>
<polyline points="15.1,546.3 20.4,533.7 25.7,545.0 31.1,553.0 36.4,544.2 41.7,535.0 47.0,539.2 52.4,550.0 57.7,564.2 63.0,572.0 68.3,580.0 73.7,588.3 79.0,586.3 84.3,591.7 89.6,592.0 94.9,587.2 100.3,590.5 105.6,593.7 110.9,580.3 116.2,580.8 121.6,574.2 126.9,567.5 132.2,570.8 137.5,568.3 142.9,563.8 148.2,566.7 153.5,573.3 158.8,567.0 164.1,567.0 169.5,561.7 174.8,566.7 180.1,558.3 185.4,562.2 190.8,558.8 196.1,553.7 201.4,550.8 206.7,551.2 212.1,548.0 217.4,550.3 222.7,557.7 228.0,548.3 233.3,542.5 238.7,547.5 244.0,544.7 249.3,529.7 254.6,519.2 260.0,522.5 265.3,514.5 270.6,520.8 275.9,529.7 281.3,521.3 286.6,532.5 291.9,532.5 297.2,532.5 302.5,540.8 307.9,563.3 313.2,572.5 318.5,575.5 323.8,542.5 329.2,542.5 334.5,549.7 339.8,540.8 345.1,526.7 350.4,512.8 355.8,528.3 361.1,518.8 366.4,530.8 371.7,537.5 377.1,520.8 382.4,542.5 387.7,535.8 393.0,533.0 398.4,534.2 403.7,530.8 409.0,535.0 414.3,538.7 419.6,541.3 425.0,542.5 430.3,542.2 435.6,533.8 440.9,536.7 446.3,541.3 451.6,538.7 456.9,541.3 462.2,539.7 467.6,540.0 472.9,542.2 478.2,559.7 483.5,551.7 488.8,539.2 494.2,544.2 499.5,540.3 504.8,545.8 510.1,556.3 515.5,552.5 520.8,548.3 526.1,543.3 531.4,540.8 536.8,538.8 542.1,536.7 547.4,522.2 552.7,526.7 558.0,520.0 563.4,517.0 568.7,552.5 574.0,552.5 579.3,527.2 584.7,533.0 590.0,535.8 595.3,537.5 600.6,539.7 606.0,539.2 611.3,533.3 616.6,527.5 621.9,526.2 627.2,528.3 632.6,517.2 637.9,524.2 643.2,520.8 648.5,518.0 653.9,527.5 659.2,524.7 664.5,528.8 669.8,531.3 675.2,527.2 680.5,536.7 685.8,539.7 691.1,537.0 696.4,534.7 701.8,534.5 707.1,525.0 712.4,518.3 717.7,514.5 723.1,529.7 728.4,527.5 733.7,525.3 739.0,534.5 744.4,526.7 749.7,530.0 755.0,539.2 760.3,544.5 765.6,560.5 771.0,557.5" fill="none" stroke="#6f8fe8" stroke-width="1" stroke-linejoin="round"/>
<path d="M15.1,537.5C16.0,537.7 18.6,538.1 20.4,538.7C22.2,539.2 24.0,540.1 25.7,540.8C27.5,541.6 29.3,542.6 31.1,543.0C32.8,543.4 34.6,543.4 36.4,543.3C38.2,543.3 39.9,542.8 41.7,542.7C43.5,542.5 45.3,542.3 47.0,542.5C48.8,542.7 50.6,543.1 52.4,543.7C54.1,544.3 55.9,545.3 57.7,546.2C59.5,547.0 61.2,547.5 63.0,548.7C64.8,549.9 66.6,551.8 68.3,553.3C70.1,554.9 71.9,556.5 73.7,558.0C75.4,559.5 77.2,560.6 79.0,562.2C80.8,563.8 82.5,565.6 84.3,567.5C86.1,569.4 87.8,571.5 89.6,573.3C91.4,575.2 93.2,577.0 94.9,578.7C96.7,580.3 98.5,582.0 100.3,583.3C102.0,584.7 103.8,585.9 105.6,586.7C107.4,587.4 109.1,587.6 110.9,587.8C112.7,588.0 114.5,588.1 116.2,587.8C118.0,587.6 119.8,586.9 121.6,586.3C123.3,585.7 125.1,584.9 126.9,584.2C128.7,583.4 130.4,582.8 132.2,582.0C134.0,581.2 135.8,580.5 137.5,579.7C139.3,578.9 141.1,578.0 142.9,577.2C144.6,576.3 146.4,575.4 148.2,574.7C149.9,573.9 151.7,573.2 153.5,572.5C155.3,571.8 157.0,571.0 158.8,570.3C160.6,569.7 162.4,569.1 164.1,568.7C165.9,568.2 167.7,567.8 169.5,567.5C171.2,567.2 173.0,567.2 174.8,567.0C176.6,566.8 178.3,566.4 180.1,566.2C181.9,565.9 183.7,565.6 185.4,565.3C187.2,565.1 189.0,565.0 190.8,564.7C192.5,564.3 194.3,564.0 196.1,563.3C197.9,562.7 199.6,561.6 201.4,560.8C203.2,560.1 205.0,559.5 206.7,558.8C208.5,558.2 210.3,557.6 212.1,557.0C213.8,556.4 215.6,555.9 217.4,555.5C219.1,555.1 220.9,554.9 222.7,554.5C224.5,554.1 226.2,553.5 228.0,553.0C229.8,552.5 231.6,551.8 233.3,551.3C235.1,550.8 236.9,550.4 238.7,550.0C240.4,549.6 242.2,549.4 244.0,548.8C245.8,548.3 247.5,547.6 249.3,546.7C251.1,545.8 252.9,544.4 254.6,543.3C256.4,542.2 258.2,541.2 260.0,540.0C261.7,538.8 263.5,537.4 265.3,536.2C267.1,534.9 268.8,533.5 270.6,532.5C272.4,531.5 274.2,530.8 275.9,530.0C277.7,529.2 279.5,528.2 281.3,527.5C283.0,526.8 284.8,526.2 286.6,525.8C288.3,525.4 290.1,525.1 291.9,525.0C293.7,524.9 295.4,524.9 297.2,525.3C299.0,525.8 300.8,526.6 302.5,527.8C304.3,529.0 306.1,530.6 307.9,532.5C309.6,534.4 311.4,537.1 313.2,539.2C315.0,541.2 316.7,543.5 318.5,544.7C320.3,545.9 322.1,545.7 323.8,546.3C325.6,547.0 327.4,547.9 329.2,548.7C330.9,549.4 332.7,550.3 334.5,550.8C336.3,551.3 338.0,551.7 339.8,551.7C341.6,551.7 343.4,551.5 345.1,550.8C346.9,550.1 348.7,548.8 350.4,547.5C352.2,546.2 354.0,544.9 355.8,543.3C357.5,541.8 359.3,539.7 361.1,538.0C362.9,536.3 364.6,534.0 366.4,533.0C368.2,532.0 370.0,532.6 371.7,532.0C373.5,531.4 375.3,530.2 377.1,529.7C378.8,529.1 380.6,529.1 382.4,528.8C384.2,528.6 385.9,528.3 387.7,528.3C389.5,528.3 391.3,528.4 393.0,528.8C394.8,529.3 396.6,530.7 398.4,531.2C400.1,531.6 401.9,531.3 403.7,531.7C405.5,532.0 407.2,532.9 409.0,533.3C410.8,533.8 412.6,533.9 414.3,534.2C416.1,534.4 417.9,534.2 419.6,534.7C421.4,535.1 423.2,536.3 425.0,536.7C426.7,537.0 428.5,536.7 430.3,536.7C432.1,536.7 433.8,536.5 435.6,536.7C437.4,536.8 439.2,537.2 440.9,537.5C442.7,537.8 444.5,538.1 446.3,538.3C448.0,538.6 449.8,538.9 451.6,539.2C453.4,539.4 455.1,539.6 456.9,539.7C458.7,539.8 460.5,539.7 462.2,539.7C464.0,539.6 465.8,539.5 467.6,539.5C469.3,539.5 471.1,539.3 472.9,539.7C474.7,540.0 476.4,541.1 478.2,541.7C480.0,542.3 481.7,543.0 483.5,543.3C485.3,543.7 487.1,543.7 488.8,543.8C490.6,544.0 492.4,544.2 494.2,544.3C495.9,544.4 497.7,544.2 499.5,544.3C501.3,544.5 503.0,544.9 504.8,545.3C506.6,545.8 508.4,546.7 510.1,547.2C511.9,547.7 513.7,548.1 515.5,548.3C517.2,548.6 519.0,548.9 520.8,548.7C522.6,548.5 524.3,547.6 526.1,547.2C527.9,546.7 529.7,546.1 531.4,545.8C533.2,545.6 535.0,545.7 536.8,545.5C538.5,545.3 540.3,545.1 542.1,544.7C543.9,544.2 545.6,543.5 547.4,542.8C549.2,542.1 550.9,541.5 552.7,540.5C554.5,539.5 556.3,537.9 558.0,536.7C559.8,535.4 561.6,533.4 563.4,532.8C565.1,532.3 566.9,533.1 568.7,533.3C570.5,533.6 572.2,534.4 574.0,534.3C575.8,534.3 577.6,533.4 579.3,533.0C581.1,532.6 582.9,532.2 584.7,532.0C586.4,531.8 588.2,531.7 590.0,532.0C591.8,532.3 593.5,533.1 595.3,533.7C597.1,534.2 598.9,534.7 600.6,535.3C602.4,536.0 604.2,536.8 606.0,537.5C607.7,538.2 609.5,539.7 611.3,539.5C613.1,539.3 614.8,537.3 616.6,536.3C618.4,535.4 620.1,534.2 621.9,533.7C623.7,533.2 625.5,533.7 627.2,533.3C629.0,533.0 630.8,532.2 632.6,531.7C634.3,531.1 636.1,530.6 637.9,530.0C639.7,529.4 641.4,528.7 643.2,528.0C645.0,527.3 646.8,526.4 648.5,525.8C650.3,525.3 652.1,525.0 653.9,524.7C655.6,524.3 657.4,523.9 659.2,523.8C661.0,523.8 662.7,524.1 664.5,524.2C666.3,524.3 668.1,524.4 669.8,524.5C671.6,524.6 673.4,524.2 675.2,524.5C676.9,524.8 678.7,525.7 680.5,526.3C682.2,527.0 684.0,527.7 685.8,528.3C687.6,529.0 689.3,529.7 691.1,530.3C692.9,530.9 694.7,531.6 696.4,532.0C698.2,532.4 700.0,532.7 701.8,532.8C703.5,533.0 705.3,533.2 707.1,533.0C708.9,532.8 710.6,532.2 712.4,531.7C714.2,531.1 716.0,529.9 717.7,529.7C719.5,529.4 721.3,530.1 723.1,530.0C724.8,529.9 726.6,529.2 728.4,528.8C730.2,528.4 731.9,527.8 733.7,527.5C735.5,527.2 737.3,527.2 739.0,527.0C740.8,526.8 742.6,526.5 744.4,526.3C746.1,526.1 747.9,525.6 749.7,525.8C751.4,526.0 753.2,526.7 755.0,527.5C756.8,528.3 758.5,529.4 760.3,530.8C762.1,532.2 763.9,534.5 765.6,535.8C767.4,537.2 770.1,538.3 771.0,538.8" fill="none" stroke="#ff2626" stroke-width="0.95"/>
<line x1="775" y1="557.8" x2="856" y2="557.8" stroke="#5b7fe3" stroke-width="1" stroke-dasharray="1 3"/>
<path d="M11,604.5V599.2H855V604.5" fill="none" stroke="#a9a9ad" stroke-width="2"/>
<text x="148.2" y="615.6" font-size="11" fill="#6c6c78" text-anchor="middle">Apr 21</text>
<text x="404" y="615.6" font-size="11" fill="#6c6c78" text-anchor="middle">Apr 22</text>
<text x="659.5" y="615.6" font-size="11" fill="#6c6c78" text-anchor="middle">Apr 23</text>
<text x="776.3" y="615.6" font-size="11" fill="#6c6c78" text-anchor="middle">Apr 24</text>
<text x="845" y="615.6" font-size="11" fill="#6c6c78" text-anchor="middle">May 7</text>
</svg>
</body></html>
